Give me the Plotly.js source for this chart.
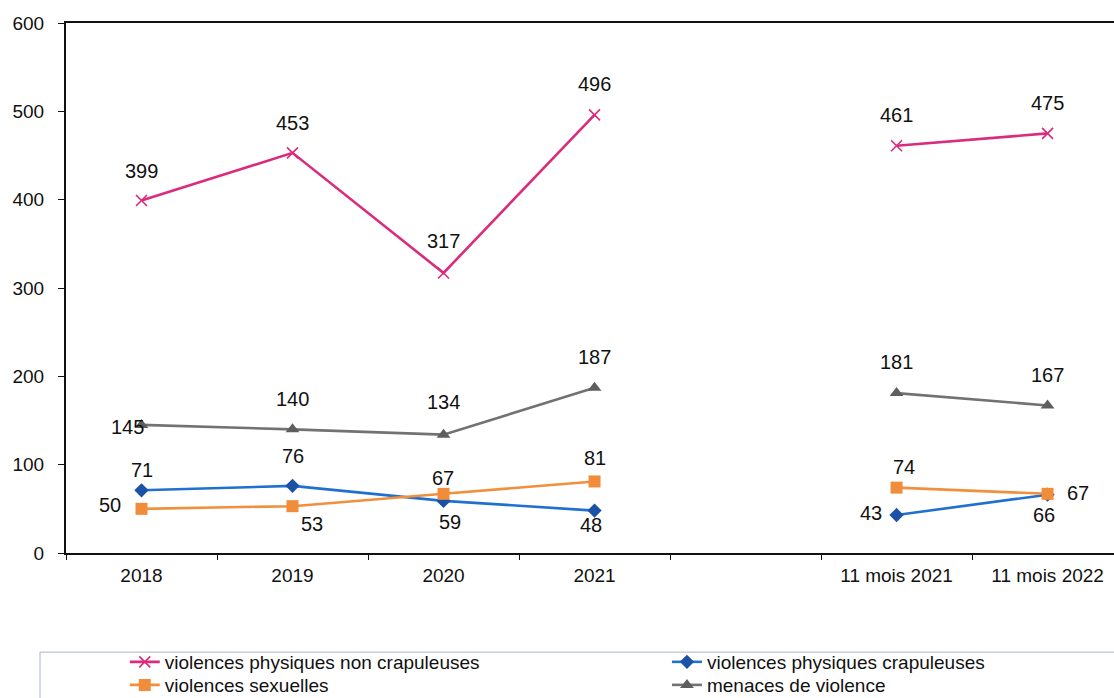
<!DOCTYPE html>
<html>
<head>
<meta charset="utf-8">
<script src="https://cdn.plot.ly/plotly-3.0.1.min.js"></script>
<style>
  html, body { margin: 0; padding: 0; background: #ffffff; }
  #chart { width: 1114px; height: 698px; }
</style>
</head>
<body>
<div id="chart"></div>
<script>
// ---- Data ----
const categories = ['2018', '2019', '2020', '2021', ' ', '11 mois 2021', '11 mois 2022'];
const seriesNames = [
  'violences physiques non crapuleuses',
  'violences physiques crapuleuses',
  'violences sexuelles',
  'menaces de violence'
];
const nonCrapuleuses = [399, 453, 317, 496, null, 461, 475];
const crapuleuses    = [71, 76, 59, 48, null, 43, 66];
const sexuelles      = [50, 53, 67, 81, null, 74, 67];
const menaces        = [145, 140, 134, 187, null, 181, 167];

// ---- Styles ----
const styles = [
  { line: '#DB2B7C', marker: '#DB2B7C', symbol: 'x-thin-open', size: 11, mlw: 1.6, legend: 'legend',  lx: 0.112,  ly: 0.0788 },
  { line: '#2070D2', marker: '#1B52A6', symbol: 'diamond',     size: 11, mlw: 0,   legend: 'legend2', lx: 0.5987, ly: 0.0788 },
  { line: '#F0903C', marker: '#F08C3A', symbol: 'square',      size: 12, mlw: 0,   legend: 'legend3', lx: 0.112,  ly: 0.0458 },
  { line: '#727272', marker: '#5E5E5E', symbol: 'triangle-up', size: 12, mlw: 0,   legend: 'legend4', lx: 0.5987, ly: 0.0458 }
];
// label offsets in pixels [dx, dy] (dy positive = downward)
const labelOffsets = [
  [[0,-30],[0,-30],[0,-32],[0,-31],null,[0,-31],[0,-30]],
  [[0,-20],[0,-30],[6,21],[-4,14],null,[-26,-2],[-4,20]],
  [[-32,-4],[19,18],[-1,-16],[0,-23],null,[7,-21],[30,-1]],
  [[-14,2],[0,-30],[0,-33],[0,-31],null,[0,-31],[0,-30]]
];

const allSeries = [nonCrapuleuses, crapuleuses, sexuelles, menaces];
const FONT = 'Liberation Sans, Arial, sans-serif';

const traces = allSeries.map((vals, i) => ({
  type: 'scatter',
  mode: 'lines+markers',
  name: seriesNames[i],
  legend: styles[i].legend,
  x: categories,
  y: vals,
  connectgaps: false,
  line: { color: styles[i].line, width: 2.6 },
  marker: {
    color: styles[i].marker,
    symbol: styles[i].symbol,
    size: styles[i].size,
    line: { color: styles[i].marker, width: styles[i].mlw }
  },
  cliponaxis: false
}));

const annotations = [];
allSeries.forEach((vals, i) => {
  vals.forEach((v, j) => {
    if (v === null) return;
    const off = labelOffsets[i][j] || [0, -25];
    annotations.push({
      x: j, y: v, xref: 'x', yref: 'y',   // j = category index on the category axis
      text: String(v), showarrow: false,
      xshift: off[0], yshift: -off[1],
      font: { family: FONT, size: 20, color: '#111111' }
    });
  });
});

const layout = {
  width: 1114, height: 698,
  margin: { l: 66, r: 0, t: 23, b: 145, pad: 0, autoexpand: false },
  paper_bgcolor: '#ffffff', plot_bgcolor: '#ffffff',
  font: { family: FONT, color: '#111111' },
  showlegend: true,
  xaxis: {
    type: 'category',
    categoryorder: 'array', categoryarray: categories,
    range: [-0.5, 6.44],
    showgrid: false, zeroline: false,
    showline: true, linecolor: '#111111', linewidth: 2, mirror: true,
    ticks: 'outside', tickson: 'boundaries', ticklen: 5, tickcolor: '#111111',
    tickfont: { size: 19, color: '#111111' },
    ticklabelstandoff: 4
  },
  yaxis: {
    range: [0, 600], dtick: 100,
    showgrid: false, zeroline: false,
    showline: true, linecolor: '#111111', linewidth: 2,
    ticks: 'outside', ticklen: 6, tickcolor: '#111111',
    tickfont: { size: 19, color: '#111111' },
    ticklabelstandoff: 10
  },
  shapes: [{
    type: 'rect', xref: 'paper', yref: 'paper',
    x0: -0.0248, x1: 1.02, y0: -0.187, y1: -0.3,
    line: { color: '#AAB4C4', width: 1 }
  }],
  annotations: annotations
};

styles.forEach(s => {
  layout[s.legend] = {
    orientation: 'v',
    xref: 'container', yref: 'container',
    x: s.lx, y: s.ly,
    xanchor: 'left', yanchor: 'top',
    font: { family: FONT, size: 19, color: '#111111' },
    bgcolor: 'rgba(0,0,0,0)',
    tracegroupgap: 0
  };
});

Plotly.newPlot('chart', traces, layout, { displayModeBar: false, staticPlot: true });
</script>
</body>
</html>
